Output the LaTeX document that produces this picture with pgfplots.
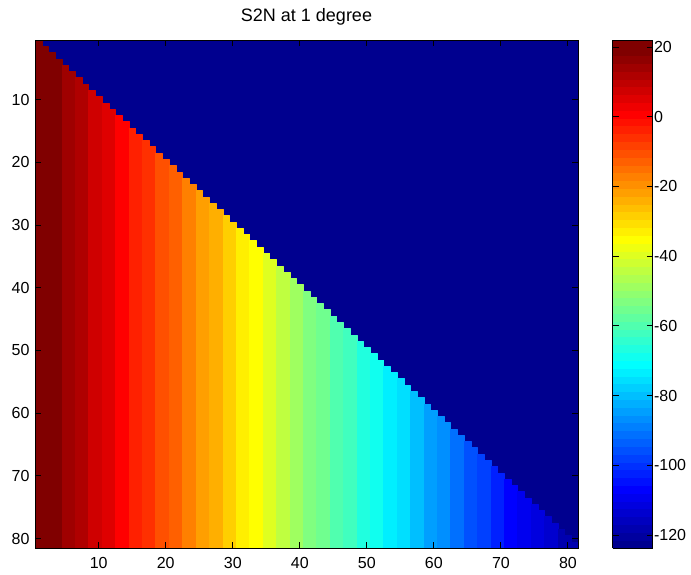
\documentclass[border=0pt]{standalone}
\usepackage{pgfplots}
\pgfplotsset{compat=1.18}
\usepackage{fontspec}
\setmainfont{Liberation Sans}
\pgfplotsset{
  /pgf/number format/assume math mode=true,
  every tick label/.append style={font=\fontsize{16}{19}\selectfont},
  colormap={matjet}{
    rgb=(0,0,0.5625) rgb=(0,0,0.625) rgb=(0,0,0.6875) rgb=(0,0,0.75)
    rgb=(0,0,0.8125) rgb=(0,0,0.875) rgb=(0,0,0.9375) rgb=(0,0,1)
    rgb=(0,0.0625,1) rgb=(0,0.125,1) rgb=(0,0.1875,1) rgb=(0,0.25,1)
    rgb=(0,0.3125,1) rgb=(0,0.375,1) rgb=(0,0.4375,1) rgb=(0,0.5,1)
    rgb=(0,0.5625,1) rgb=(0,0.625,1) rgb=(0,0.6875,1) rgb=(0,0.75,1)
    rgb=(0,0.8125,1) rgb=(0,0.875,1) rgb=(0,0.9375,1) rgb=(0,1,1)
    rgb=(0.0625,1,0.9375) rgb=(0.125,1,0.875) rgb=(0.1875,1,0.8125) rgb=(0.25,1,0.75)
    rgb=(0.3125,1,0.6875) rgb=(0.375,1,0.625) rgb=(0.4375,1,0.5625) rgb=(0.5,1,0.5)
    rgb=(0.5625,1,0.4375) rgb=(0.625,1,0.375) rgb=(0.6875,1,0.3125) rgb=(0.75,1,0.25)
    rgb=(0.8125,1,0.1875) rgb=(0.875,1,0.125) rgb=(0.9375,1,0.0625) rgb=(1,1,0)
    rgb=(1,0.9375,0) rgb=(1,0.875,0) rgb=(1,0.8125,0) rgb=(1,0.75,0)
    rgb=(1,0.6875,0) rgb=(1,0.625,0) rgb=(1,0.5625,0) rgb=(1,0.5,0)
    rgb=(1,0.4375,0) rgb=(1,0.375,0) rgb=(1,0.3125,0) rgb=(1,0.25,0)
    rgb=(1,0.1875,0) rgb=(1,0.125,0) rgb=(1,0.0625,0) rgb=(1,0,0)
    rgb=(0.9375,0,0) rgb=(0.875,0,0) rgb=(0.8125,0,0) rgb=(0.75,0,0)
    rgb=(0.6875,0,0) rgb=(0.625,0,0) rgb=(0.5625,0,0) rgb=(0.5,0,0)
    rgb=(0.5,0,0)
  },
}
\begin{document}
\begin{tikzpicture}
\useasboundingbox (-35pt,-27pt) rectangle (656pt,548pt);
\begin{axis}[
  at={(0pt,0pt)}, anchor=south west,
  scale only axis, width=543pt, height=508pt,
  xmin=0.5, xmax=81.5, ymin=0.5, ymax=81.5,
  y dir=reverse,
  xtick={10,20,...,80}, ytick={10,20,...,80},
  tick align=inside, major tick length=6pt,
  every tick/.style={black, line width=0.9pt},
  axis line style={black, line width=0.9pt},
  xticklabel style={yshift=-6pt},
  yticklabel style={xshift=-2pt},
  axis on top,
  title={S2N at 1 degree},
  title style={at={(0.5,1)}, anchor=base, yshift=13pt, font=\fontsize{18}{22}\selectfont},
  colormap name=matjet,
  colormap access=piecewise constant,
  point meta min=-123.7, point meta max=22,
  colorbar,
  colorbar style={
    at={(parent axis.north east)}, anchor=north west, xshift=26pt,
    width=40pt,
    ytick={-120,-100,...,20},
    ytick pos=both, yticklabel pos=right,
    tick align=inside, major tick length=6pt,
    every tick/.style={black, line width=0.9pt},
    axis line style={black, line width=0.9pt},
    yticklabel style={xshift=-2pt},
  },
]
\addplot[patch, patch type=rectangle, shader=flat, point meta=explicit]
  table[row sep=\\, x=x, y=y, meta=c]{
x y c\\
0.5 81.5 -123.7\\81.5 81.5 -123.7\\81.5 0.5 -123.7\\0.5 0.5 -123.7\\
0.5 81.5 22\\1.5 81.5 22\\1.5 0.5 22\\0.5 0.5 22\\
1.5 81.5 22\\2.5 81.5 22\\2.5 1.5 22\\1.5 1.5 22\\
2.5 81.5 18.5\\3.5 81.5 18.5\\3.5 2.5 18.5\\2.5 2.5 18.5\\
3.5 81.5 18.5\\4.5 81.5 18.5\\4.5 3.5 18.5\\3.5 3.5 18.5\\
4.5 81.5 15\\5.5 81.5 15\\5.5 4.5 15\\4.5 4.5 15\\
5.5 81.5 15\\6.5 81.5 15\\6.5 5.5 15\\5.5 5.5 15\\
6.5 81.5 11.5\\7.5 81.5 11.5\\7.5 6.5 11.5\\6.5 6.5 11.5\\
7.5 81.5 11.5\\8.5 81.5 11.5\\8.5 7.5 11.5\\7.5 7.5 11.5\\
8.5 81.5 8\\9.5 81.5 8\\9.5 8.5 8\\8.5 8.5 8\\
9.5 81.5 8\\10.5 81.5 8\\10.5 9.5 8\\9.5 9.5 8\\
10.5 81.5 4.5\\11.5 81.5 4.5\\11.5 10.5 4.5\\10.5 10.5 4.5\\
11.5 81.5 4.5\\12.5 81.5 4.5\\12.5 11.5 4.5\\11.5 11.5 4.5\\
12.5 81.5 1\\13.5 81.5 1\\13.5 12.5 1\\12.5 12.5 1\\
13.5 81.5 1\\14.5 81.5 1\\14.5 13.5 1\\13.5 13.5 1\\
14.5 81.5 -2.7\\15.5 81.5 -2.7\\15.5 14.5 -2.7\\14.5 14.5 -2.7\\
15.5 81.5 -2.7\\16.5 81.5 -2.7\\16.5 15.5 -2.7\\15.5 15.5 -2.7\\
16.5 81.5 -6.4\\17.5 81.5 -6.4\\17.5 16.5 -6.4\\16.5 16.5 -6.4\\
17.5 81.5 -6.4\\18.5 81.5 -6.4\\18.5 17.5 -6.4\\17.5 17.5 -6.4\\
18.5 81.5 -10.1\\19.5 81.5 -10.1\\19.5 18.5 -10.1\\18.5 18.5 -10.1\\
19.5 81.5 -10.1\\20.5 81.5 -10.1\\20.5 19.5 -10.1\\19.5 19.5 -10.1\\
20.5 81.5 -13.8\\21.5 81.5 -13.8\\21.5 20.5 -13.8\\20.5 20.5 -13.8\\
21.5 81.5 -13.8\\22.5 81.5 -13.8\\22.5 21.5 -13.8\\21.5 21.5 -13.8\\
22.5 81.5 -17.5\\23.5 81.5 -17.5\\23.5 22.5 -17.5\\22.5 22.5 -17.5\\
23.5 81.5 -17.5\\24.5 81.5 -17.5\\24.5 23.5 -17.5\\23.5 23.5 -17.5\\
24.5 81.5 -21.2\\25.5 81.5 -21.2\\25.5 24.5 -21.2\\24.5 24.5 -21.2\\
25.5 81.5 -21.2\\26.5 81.5 -21.2\\26.5 25.5 -21.2\\25.5 25.5 -21.2\\
26.5 81.5 -24.9\\27.5 81.5 -24.9\\27.5 26.5 -24.9\\26.5 26.5 -24.9\\
27.5 81.5 -24.9\\28.5 81.5 -24.9\\28.5 27.5 -24.9\\27.5 27.5 -24.9\\
28.5 81.5 -28.6\\29.5 81.5 -28.6\\29.5 28.5 -28.6\\28.5 28.5 -28.6\\
29.5 81.5 -28.6\\30.5 81.5 -28.6\\30.5 29.5 -28.6\\29.5 29.5 -28.6\\
30.5 81.5 -32.3\\31.5 81.5 -32.3\\31.5 30.5 -32.3\\30.5 30.5 -32.3\\
31.5 81.5 -32.3\\32.5 81.5 -32.3\\32.5 31.5 -32.3\\31.5 31.5 -32.3\\
32.5 81.5 -36\\33.5 81.5 -36\\33.5 32.5 -36\\32.5 32.5 -36\\
33.5 81.5 -36\\34.5 81.5 -36\\34.5 33.5 -36\\33.5 33.5 -36\\
34.5 81.5 -40\\35.5 81.5 -40\\35.5 34.5 -40\\34.5 34.5 -40\\
35.5 81.5 -40\\36.5 81.5 -40\\36.5 35.5 -40\\35.5 35.5 -40\\
36.5 81.5 -44.3\\37.5 81.5 -44.3\\37.5 36.5 -44.3\\36.5 36.5 -44.3\\
37.5 81.5 -44.3\\38.5 81.5 -44.3\\38.5 37.5 -44.3\\37.5 37.5 -44.3\\
38.5 81.5 -48.5\\39.5 81.5 -48.5\\39.5 38.5 -48.5\\38.5 38.5 -48.5\\
39.5 81.5 -48.5\\40.5 81.5 -48.5\\40.5 39.5 -48.5\\39.5 39.5 -48.5\\
40.5 81.5 -52\\41.5 81.5 -52\\41.5 40.5 -52\\40.5 40.5 -52\\
41.5 81.5 -52\\42.5 81.5 -52\\42.5 41.5 -52\\41.5 41.5 -52\\
42.5 81.5 -55.4\\43.5 81.5 -55.4\\43.5 42.5 -55.4\\42.5 42.5 -55.4\\
43.5 81.5 -55.4\\44.5 81.5 -55.4\\44.5 43.5 -55.4\\43.5 43.5 -55.4\\
44.5 81.5 -58.8\\45.5 81.5 -58.8\\45.5 44.5 -58.8\\44.5 44.5 -58.8\\
45.5 81.5 -58.8\\46.5 81.5 -58.8\\46.5 45.5 -58.8\\45.5 45.5 -58.8\\
46.5 81.5 -62.2\\47.5 81.5 -62.2\\47.5 46.5 -62.2\\46.5 46.5 -62.2\\
47.5 81.5 -62.2\\48.5 81.5 -62.2\\48.5 47.5 -62.2\\47.5 47.5 -62.2\\
48.5 81.5 -65.6\\49.5 81.5 -65.6\\49.5 48.5 -65.6\\48.5 48.5 -65.6\\
49.5 81.5 -65.6\\50.5 81.5 -65.6\\50.5 49.5 -65.6\\49.5 49.5 -65.6\\
50.5 81.5 -69\\51.5 81.5 -69\\51.5 50.5 -69\\50.5 50.5 -69\\
51.5 81.5 -69\\52.5 81.5 -69\\52.5 51.5 -69\\51.5 51.5 -69\\
52.5 81.5 -72.2\\53.5 81.5 -72.2\\53.5 52.5 -72.2\\52.5 52.5 -72.2\\
53.5 81.5 -72.2\\54.5 81.5 -72.2\\54.5 53.5 -72.2\\53.5 53.5 -72.2\\
54.5 81.5 -76\\55.5 81.5 -76\\55.5 54.5 -76\\54.5 54.5 -76\\
55.5 81.5 -76\\56.5 81.5 -76\\56.5 55.5 -76\\55.5 55.5 -76\\
56.5 81.5 -79.8\\57.5 81.5 -79.8\\57.5 56.5 -79.8\\56.5 56.5 -79.8\\
57.5 81.5 -79.8\\58.5 81.5 -79.8\\58.5 57.5 -79.8\\57.5 57.5 -79.8\\
58.5 81.5 -83.6\\59.5 81.5 -83.6\\59.5 58.5 -83.6\\58.5 58.5 -83.6\\
59.5 81.5 -83.6\\60.5 81.5 -83.6\\60.5 59.5 -83.6\\59.5 59.5 -83.6\\
60.5 81.5 -87.4\\61.5 81.5 -87.4\\61.5 60.5 -87.4\\60.5 60.5 -87.4\\
61.5 81.5 -87.4\\62.5 81.5 -87.4\\62.5 61.5 -87.4\\61.5 61.5 -87.4\\
62.5 81.5 -91.2\\63.5 81.5 -91.2\\63.5 62.5 -91.2\\62.5 62.5 -91.2\\
63.5 81.5 -91.2\\64.5 81.5 -91.2\\64.5 63.5 -91.2\\63.5 63.5 -91.2\\
64.5 81.5 -95\\65.5 81.5 -95\\65.5 64.5 -95\\64.5 64.5 -95\\
65.5 81.5 -95\\66.5 81.5 -95\\66.5 65.5 -95\\65.5 65.5 -95\\
66.5 81.5 -98.8\\67.5 81.5 -98.8\\67.5 66.5 -98.8\\66.5 66.5 -98.8\\
67.5 81.5 -98.8\\68.5 81.5 -98.8\\68.5 67.5 -98.8\\67.5 67.5 -98.8\\
68.5 81.5 -102.6\\69.5 81.5 -102.6\\69.5 68.5 -102.6\\68.5 68.5 -102.6\\
69.5 81.5 -102.6\\70.5 81.5 -102.6\\70.5 69.5 -102.6\\69.5 69.5 -102.6\\
70.5 81.5 -106.4\\71.5 81.5 -106.4\\71.5 70.5 -106.4\\70.5 70.5 -106.4\\
71.5 81.5 -106.4\\72.5 81.5 -106.4\\72.5 71.5 -106.4\\71.5 71.5 -106.4\\
72.5 81.5 -109.2\\73.5 81.5 -109.2\\73.5 72.5 -109.2\\72.5 72.5 -109.2\\
73.5 81.5 -109.2\\74.5 81.5 -109.2\\74.5 73.5 -109.2\\73.5 73.5 -109.2\\
74.5 81.5 -112\\75.5 81.5 -112\\75.5 74.5 -112\\74.5 74.5 -112\\
75.5 81.5 -112\\76.5 81.5 -112\\76.5 75.5 -112\\75.5 75.5 -112\\
76.5 81.5 -114.5\\77.5 81.5 -114.5\\77.5 76.5 -114.5\\76.5 76.5 -114.5\\
77.5 81.5 -114.5\\78.5 81.5 -114.5\\78.5 77.5 -114.5\\77.5 77.5 -114.5\\
78.5 81.5 -117\\79.5 81.5 -117\\79.5 78.5 -117\\78.5 78.5 -117\\
79.5 81.5 -117\\80.5 81.5 -117\\80.5 79.5 -117\\79.5 79.5 -117\\
80.5 81.5 -119\\81.5 81.5 -119\\81.5 80.5 -119\\80.5 80.5 -119\\
};
\end{axis}
\end{tikzpicture}
\end{document}
